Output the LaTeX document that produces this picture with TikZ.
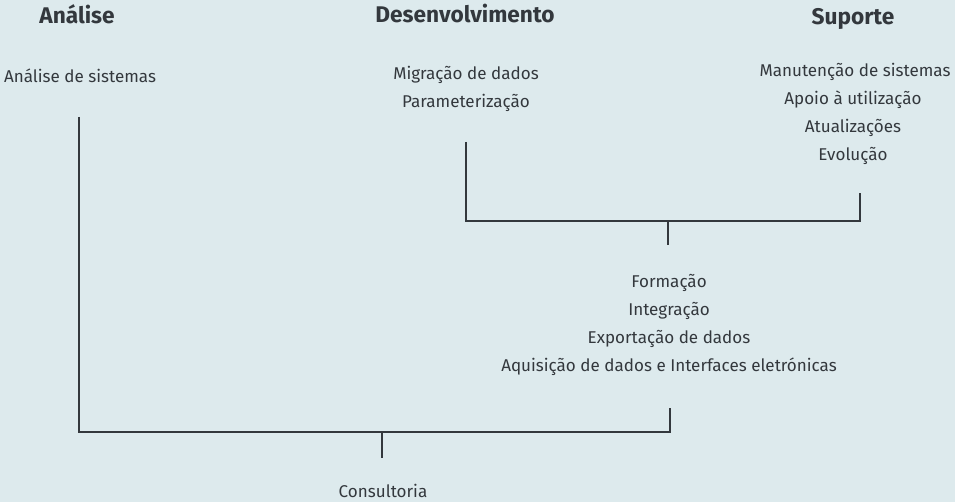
\documentclass[tikz,border=0pt]{standalone}
\usepackage{fontspec}
\setmainfont{Fira Sans}
\usetikzlibrary{positioning}
\definecolor{bg}{HTML}{DDEAED}
\definecolor{ink}{HTML}{33383D}
\tikzset{
  head/.style={font=\fontsize{12.9}{15}\selectfont\bfseries,text=ink,inner sep=0pt},
  item/.style={font=\fontsize{9.7}{12}\selectfont,text=ink,inner sep=0pt},
  bar/.style={draw=ink,line width=1.3pt}
}
\begin{document}
\begin{tikzpicture}[x=0.02cm,y=-0.02cm]
\fill[bg](0,0) rectangle (955,502);
\node[head] (analise) at (77,14) {Análise};
\node[head] (desenv) at (465,14) {Desenvolvimento};
\node[head] (suporte) at (853,19) {Suporte};
\node[item] (sistemas) at (80,76) {Análise de sistemas};
\node[item] (migracao) at (466,75) {Migração de dados};
\node[item] (param) at (466,103) {Parameterização};
\node[item] (manut) at (855,72) {Manutenção de sistemas};
\node[item] (apoio) at (853,100) {Apoio à utilização};
\node[item] (atual) at (853,128) {Atualizações};
\node[item] (evol) at (853,156) {Evolução};
\node[item] (formacao) at (669,283) {Formação};
\node[item] (integr) at (669,311) {Integração};
\node[item] (export) at (669,339) {Exportação de dados};
\node[item] (aquis) at (669,367) {Aquisição de dados e Interfaces eletrónicas};
\node[item] (consult) at (383,491) {Consultoria};
% bracket Desenvolvimento / Suporte
\coordinate (d1) at (466,142);
\coordinate (d2) at (466,221);
\coordinate (s1) at (860,193);
\coordinate (s2) at (860,221);
\coordinate (t1) at (668,221);
\coordinate (t2) at (668,245);
\draw[bar](d1)--(d2)--(s2)--(s1);
\draw[bar](t1)--(t2);
% bracket Analise / Formacao
\coordinate (a1) at (79,117);
\coordinate (a2) at (79,432);
\coordinate (f1) at (670,408);
\coordinate (f2) at (670,432);
\coordinate (c1) at (382,432);
\coordinate (c2) at (382,458);
\draw[bar](a1)--(a2)--(f2)--(f1);
\draw[bar](c1)--(c2);
\end{tikzpicture}
\end{document}
